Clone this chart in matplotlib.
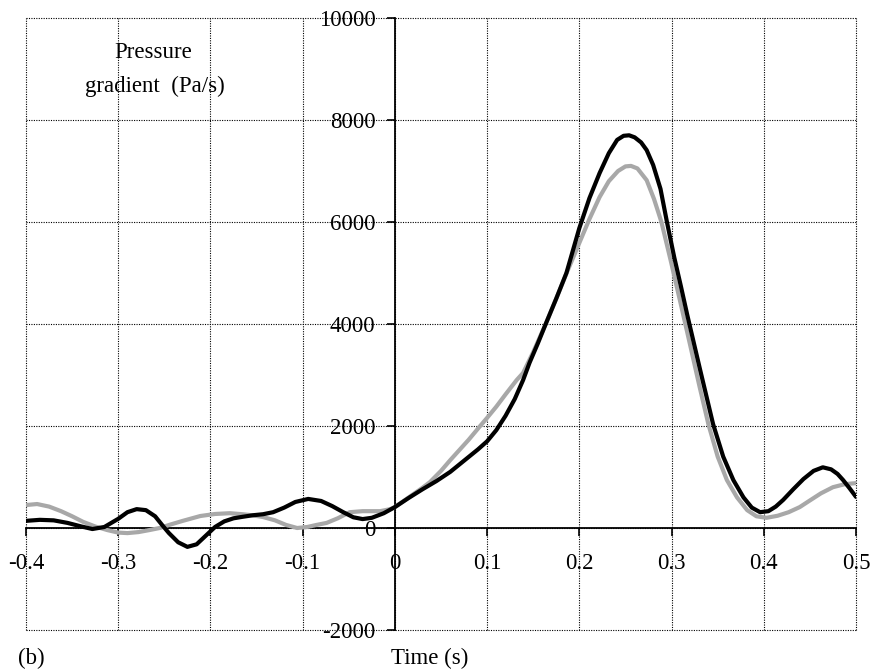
"""
Pressure gradient vs time, panel (b).
Two traces on centred axes with dotted grid, Times-like serif text.
"""

import matplotlib
matplotlib.use('Agg')
import matplotlib.pyplot as plt

plt.rcParams['font.family'] = ['Liberation Serif', 'DejaVu Serif']
plt.rcParams['axes.unicode_minus'] = False

# grey trace
grey_t = [-0.400, -0.388, -0.375, -0.362, -0.350, -0.338, -0.325, -0.312, -0.300, -0.290,
          -0.278, -0.266, -0.255, -0.243, -0.230, -0.211, -0.195, -0.179, -0.165, -0.155,
          -0.143, -0.130, -0.118, -0.106, -0.095, -0.085, -0.074, -0.062, -0.049, -0.035,
          -0.016, -0.005, 0.000, 0.015, 0.030, 0.038, 0.050, 0.060, 0.070, 0.080,
          0.092, 0.100, 0.110, 0.120, 0.132, 0.139, 0.150, 0.164, 0.175, 0.186,
          0.200, 0.211, 0.222, 0.232, 0.242, 0.250, 0.256, 0.263, 0.273, 0.281,
          0.289, 0.299, 0.309, 0.320, 0.330, 0.340, 0.350, 0.360, 0.371, 0.382,
          0.392, 0.403, 0.415, 0.427, 0.439, 0.450, 0.462, 0.475, 0.488, 0.500]
grey_v = [450, 470, 420, 330, 230, 120, 30, -40, -90, -100,
          -80, -40, 0, 70, 140, 235, 275, 290, 270, 250,
          215, 150, 60, 0, 20, 60, 100, 190, 310, 330,
          330, 370, 410, 600, 790, 900, 1120, 1330, 1530, 1730,
          1990, 2160, 2380, 2620, 2900, 3040, 3450, 4020, 4500, 4990,
          5590, 6060, 6490, 6800, 7000, 7090, 7100, 7050, 6820, 6450,
          6000, 5250, 4470, 3600, 2800, 2030, 1400, 940, 600, 350,
          230, 200, 240, 310, 410, 540, 680, 800, 860, 880]

# black trace
black_t = [-0.400, -0.385, -0.370, -0.355, -0.340, -0.328, -0.315, -0.300, -0.290, -0.280,
           -0.270, -0.260, -0.252, -0.245, -0.235, -0.225, -0.215, -0.205, -0.195, -0.185,
           -0.175, -0.165, -0.154, -0.143, -0.132, -0.120, -0.108, -0.094, -0.080, -0.068,
           -0.056, -0.045, -0.035, -0.025, -0.012, 0.000, 0.015, 0.030, 0.045, 0.060,
           0.075, 0.090, 0.100, 0.110, 0.120, 0.130, 0.139, 0.146, 0.155, 0.164,
           0.175, 0.186, 0.200, 0.211, 0.222, 0.232, 0.241, 0.248, 0.254, 0.260,
           0.267, 0.273, 0.280, 0.288, 0.295, 0.303, 0.310, 0.317, 0.331, 0.345,
           0.356, 0.367, 0.378, 0.387, 0.396, 0.405, 0.413, 0.421, 0.432, 0.443,
           0.454, 0.464, 0.473, 0.480, 0.486, 0.493, 0.500]
black_v = [140, 160, 150, 100, 30, -20, 20, 180, 310, 370,
           350, 230, 50, -100, -280, -370, -320, -150, 20, 130,
           190, 220, 250, 270, 310, 400, 510, 570, 530, 430,
           310, 210, 175, 200, 290, 410, 590, 760, 920, 1100,
           1320, 1540, 1700, 1920, 2200, 2530, 2900, 3240, 3620, 4020,
           4500, 5000, 5880, 6470, 6960, 7350, 7610, 7690, 7700, 7660,
           7560, 7410, 7120, 6650, 6000, 5300, 4750, 4180, 3100, 2040,
           1400, 940, 600, 400, 310, 330, 420, 550, 760, 960,
           1120, 1190, 1150, 1060, 940, 780, 610]

x_ticks = [-0.4, -0.3, -0.2, -0.1, 0.0, 0.1, 0.2, 0.3, 0.4, 0.5]
x_tick_labels = ['-0.4', '-0.3', '-0.2', '-0.1', '0', '0.1', '0.2', '0.3', '0.4', '0.5']
y_ticks = [-2000, 0, 2000, 4000, 6000, 8000, 10000]
y_tick_labels = ['-2000', '0', '2000', '4000', '6000', '8000', '10000']

FONT_SIZE = 16.5

fig = plt.figure(figsize=(8.75, 6.72), dpi=100)
ax = fig.add_axes([26 / 875, 42 / 672, 830 / 875, 612 / 672])

line_style = dict(linewidth=3, solid_capstyle='round', solid_joinstyle='round')
ax.plot(grey_t, grey_v, color='#a8a8a8', zorder=3, **line_style)
ax.plot(black_t, black_v, color='black', zorder=4, **line_style)

ax.set_xlim(-0.4, 0.5)
ax.set_ylim(-2000, 10000)
ax.set_xticks(x_ticks)
ax.set_xticklabels(x_tick_labels)
ax.set_yticks(y_ticks)
ax.set_yticklabels(y_tick_labels)

# centred axes
ax.spines['left'].set_position(('data', 0))
ax.spines['bottom'].set_position(('data', 0))
ax.spines['top'].set_visible(False)
ax.spines['right'].set_visible(False)
for side in ('left', 'bottom'):
    ax.spines[side].set_linewidth(1.3)
    ax.spines[side].set_zorder(2)

ax.tick_params(axis='both', direction='out', length=6, width=1.2, labelsize=FONT_SIZE)
ax.tick_params(axis='x', pad=12)
ax.tick_params(axis='y', pad=8)

# dotted grid, including the outer frame
ax.grid(True, linestyle=(0, (1, 1.2)), color='black', linewidth=0.8)
ax.set_axisbelow(True)
for line in ax.get_xgridlines() + ax.get_ygridlines():
    line.set_clip_on(False)

fig.text(153 / 875, 1 - 52 / 672, 'Pressure', ha='center', va='center', fontsize=FONT_SIZE)
fig.text(155 / 875, 1 - 86 / 672, 'gradient  (Pa/s)', ha='center', va='center', fontsize=FONT_SIZE)
fig.text(31 / 875, 1 - 658 / 672, '(b)', ha='center', va='center', fontsize=FONT_SIZE)
fig.text(430 / 875, 1 - 658 / 672, 'Time (s)', ha='center', va='center', fontsize=FONT_SIZE)

fig.savefig('out.png', dpi=100, facecolor='white')
plt.close(fig)
